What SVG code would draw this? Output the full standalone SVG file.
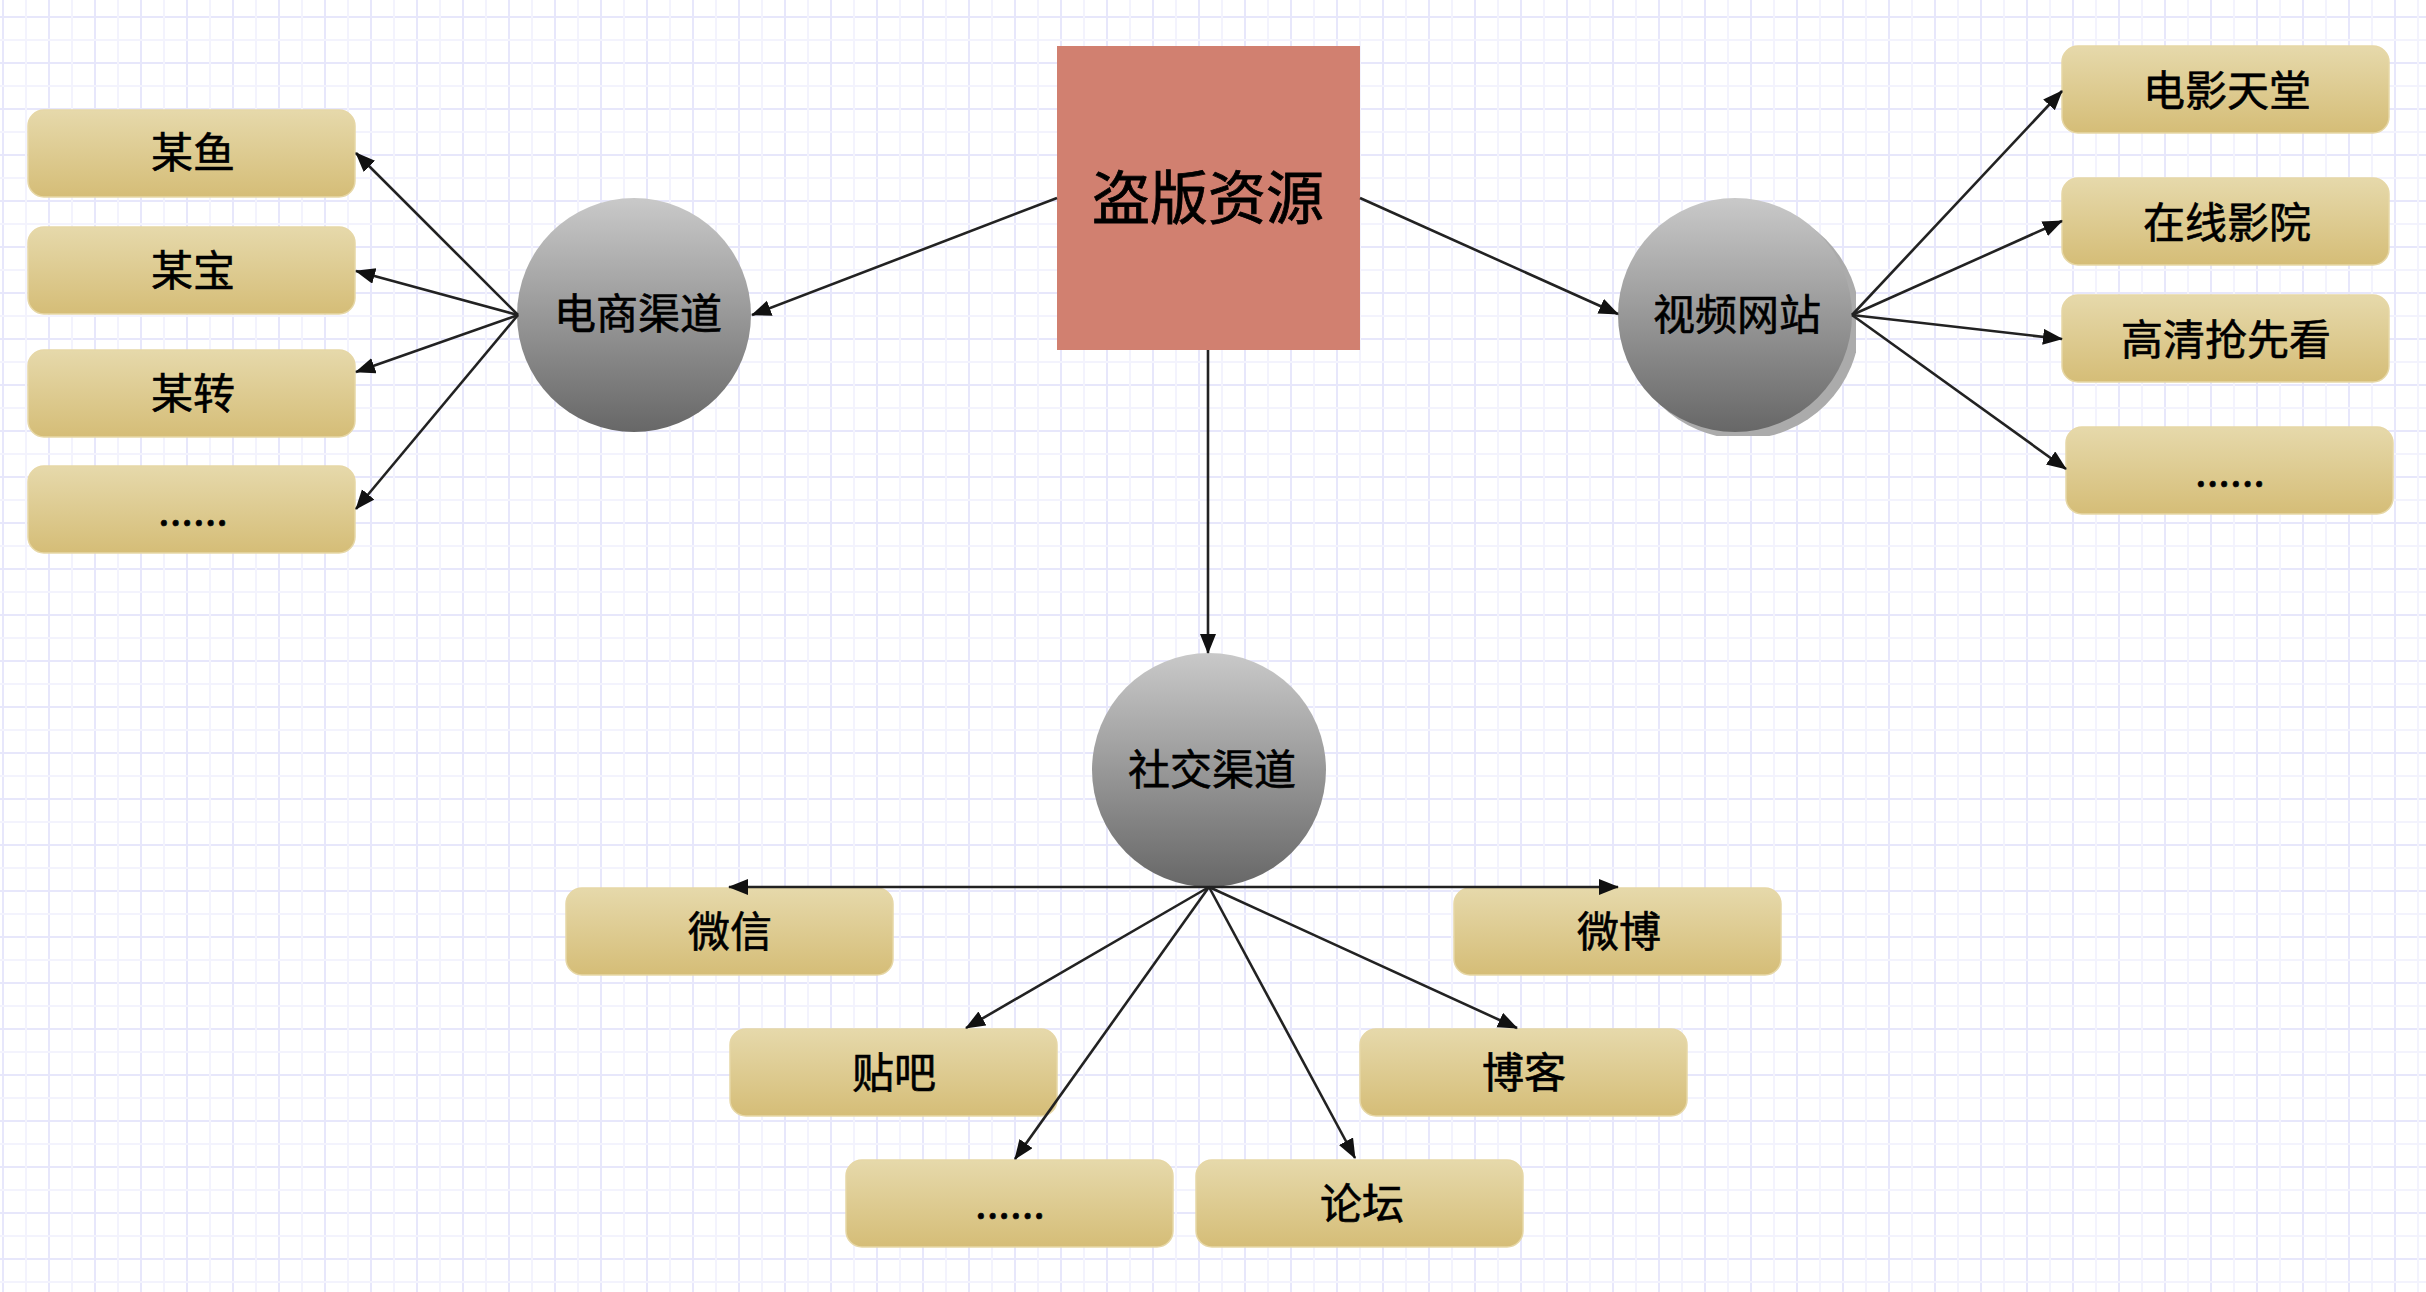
<svg xmlns="http://www.w3.org/2000/svg" width="2426" height="1292" viewBox="0 0 2426 1292">
<style>
.t{font-family:"Noto Sans CJK SC","Noto Sans",sans-serif;font-size:42px;fill:#000;stroke:#000;stroke-width:0.6px;text-anchor:middle}
.big{font-size:58px;stroke-width:0.8px}
.box{fill:url(#gold);stroke:#e6d7a6;stroke-width:1.5}
.ball{fill:url(#grey)}
.edge{stroke:#222;stroke-width:2.6;fill:none;marker-end:url(#arr)}
</style>
<defs>
<pattern id="grid" x="2" y="16" width="46" height="46" patternUnits="userSpaceOnUse">
<rect x="0" y="0" width="2" height="46" fill="#e7e7fb"/>
<rect x="0" y="0" width="46" height="2" fill="#e7e7fb"/>
<rect x="23" y="0" width="2" height="46" fill="#f3f3fd"/>
<rect x="0" y="23" width="46" height="2" fill="#f3f3fd"/>
</pattern>
<linearGradient id="gold" x1="0" y1="0" x2="0" y2="1">
<stop offset="0" stop-color="#e6d9ab"/>
<stop offset="1" stop-color="#d5bd77"/>
</linearGradient>
<linearGradient id="grey" x1="0" y1="0" x2="0" y2="1">
<stop offset="0" stop-color="#c9c9c9"/>
<stop offset="1" stop-color="#676767"/>
</linearGradient>
<clipPath id="shclip"><rect x="1600" y="190" width="256" height="246"/></clipPath>
<marker id="arr" markerUnits="userSpaceOnUse" markerWidth="24" markerHeight="18" refX="19" refY="8" orient="auto">
<path d="M0,0 L20,8 L0,16 Z" fill="#111"/>
</marker>
</defs>
<rect width="2426" height="1292" fill="#fff"/>
<rect width="2426" height="1292" fill="url(#grid)"/>

<g id="nodes">
<g id="source"><rect x="1057" y="46" width="303" height="304" fill="#d18070"/><text class="t big" x="1208" y="219">盗版资源</text></g>

<g id="ecommerce"><circle class="ball" cx="634" cy="315" r="117"/><text class="t" x="638" y="329">电商渠道</text></g>
<g id="video"><circle cx="1743" cy="322" r="117" fill="#ababab" clip-path="url(#shclip)"/><circle class="ball" cx="1735" cy="315" r="117"/><text class="t" x="1737" y="330">视频网站</text></g>
<g id="social"><circle class="ball" cx="1209" cy="770" r="117"/><text class="t" x="1212" y="785">社交渠道</text></g>

<g id="mouyu"><rect class="box" x="28" y="110" width="327" height="87" rx="16"/><text class="t" x="193" y="168">某鱼</text></g>
<g id="moubao"><rect class="box" x="28" y="227" width="327" height="87" rx="16"/><text class="t" x="193" y="286">某宝</text></g>
<g id="mouzhuan"><rect class="box" x="28" y="350" width="327" height="87" rx="16"/><text class="t" x="193" y="409">某转</text></g>
<g id="ec-more"><rect class="box" x="28" y="466" width="327" height="87" rx="16"/><text class="t" x="193" y="525">......</text></g>

<g id="dianying"><rect class="box" x="2062" y="46" width="327" height="87" rx="16"/><text class="t" x="2227" y="106">电影天堂</text></g>
<g id="zaixian"><rect class="box" x="2062" y="178" width="327" height="87" rx="16"/><text class="t" x="2227" y="238">在线影院</text></g>
<g id="gaoqing"><rect class="box" x="2062" y="295" width="327" height="87" rx="16"/><text class="t" x="2226" y="355">高清抢先看</text></g>
<g id="video-more"><rect class="box" x="2066" y="427" width="327" height="87" rx="16"/><text class="t" x="2230" y="486">......</text></g>

<g id="weixin"><rect class="box" x="566" y="888" width="327" height="87" rx="16"/><text class="t" x="730" y="947">微信</text></g>
<g id="weibo"><rect class="box" x="1454" y="888" width="327" height="87" rx="16"/><text class="t" x="1619" y="947">微博</text></g>
<g id="tieba"><rect class="box" x="730" y="1029" width="327" height="87" rx="16"/><text class="t" x="894" y="1088">贴吧</text></g>
<g id="boke"><rect class="box" x="1360" y="1029" width="327" height="87" rx="16"/><text class="t" x="1524" y="1088">博客</text></g>
<g id="social-more"><rect class="box" x="846" y="1160" width="327" height="87" rx="16"/><text class="t" x="1010" y="1218">......</text></g>
<g id="luntan"><rect class="box" x="1196" y="1160" width="327" height="87" rx="16"/><text class="t" x="1362" y="1219">论坛</text></g>
</g>

<g id="connectors">
<line class="edge" x1="1057" y1="198" x2="752" y2="315"/>
<line class="edge" x1="1360" y1="198" x2="1618" y2="314"/>
<line class="edge" x1="1208" y1="350" x2="1208" y2="653"/>

<line class="edge" x1="518" y1="315" x2="356" y2="153"/>
<line class="edge" x1="518" y1="315" x2="356" y2="271"/>
<line class="edge" x1="518" y1="315" x2="356" y2="372"/>
<line class="edge" x1="518" y1="315" x2="356" y2="509"/>

<line class="edge" x1="1852" y1="315" x2="2062" y2="91"/>
<line class="edge" x1="1852" y1="315" x2="2062" y2="221"/>
<line class="edge" x1="1852" y1="315" x2="2062" y2="339"/>
<line class="edge" x1="1852" y1="315" x2="2066" y2="469"/>

<line class="edge" x1="1209" y1="887" x2="729" y2="887"/>
<line class="edge" x1="1209" y1="887" x2="1618" y2="887"/>
<line class="edge" x1="1209" y1="887" x2="966" y2="1028"/>
<line class="edge" x1="1209" y1="887" x2="1015" y2="1159"/>
<line class="edge" x1="1209" y1="887" x2="1355" y2="1158"/>
<line class="edge" x1="1209" y1="887" x2="1517" y2="1028"/>
</g>
</svg>
